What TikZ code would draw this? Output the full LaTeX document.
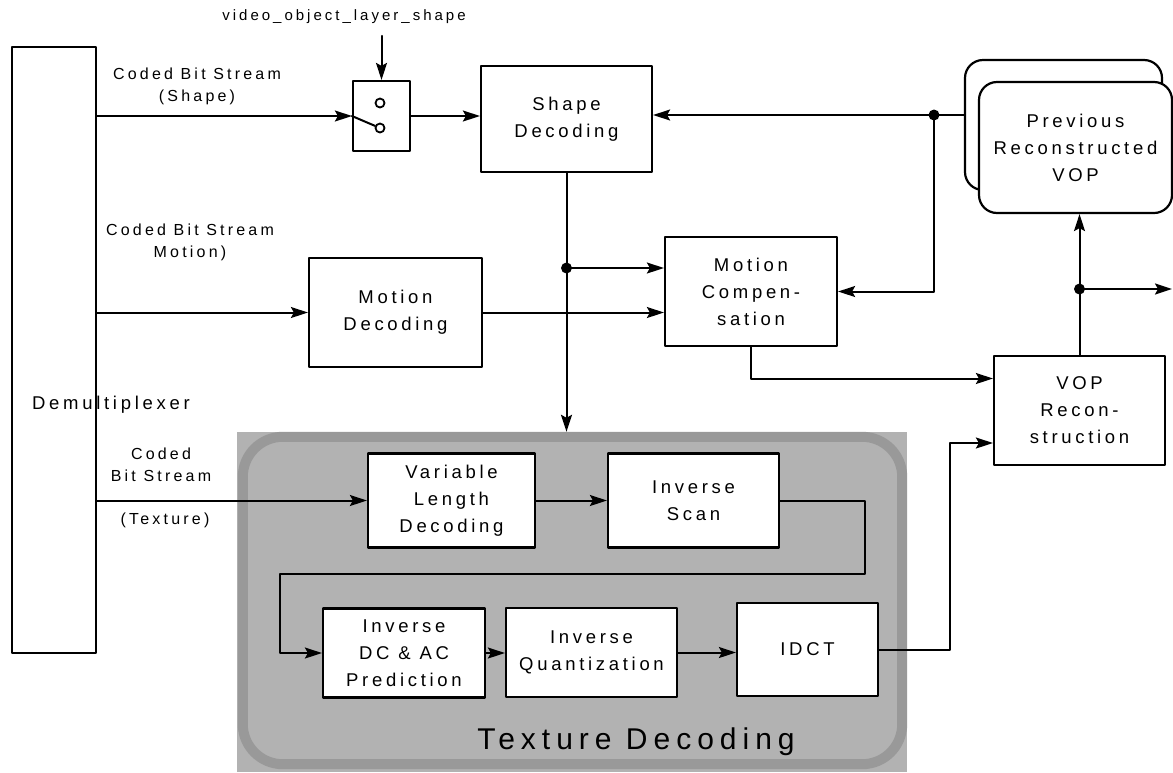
\documentclass[tikz,border=0pt]{standalone}
\usepackage{fontspec}
\setmainfont{Liberation Sans}[LetterSpace=20]
\newfontfamily\bigfont{Liberation Sans}[LetterSpace=20]
\usepackage{tikz}
\usetikzlibrary{arrows.meta}
\definecolor{texfill}{RGB}{178,178,178}
\definecolor{texrim}{RGB}{153,153,153}
\tikzset{
  blk/.style={draw,line width=2.2pt,fill=white,inner sep=0pt,align=center,font=\fontsize{18.5}{27}\selectfont},
  vopbox/.style={blk,rounded corners=18pt},
  lbl/.style={inner sep=0pt,align=center,font=\fontsize{16}{22}\selectfont},
  wire/.style={line width=2pt},
  contact/.style={draw,circle,line width=1.8pt,minimum size=9pt,inner sep=0pt}
}

\begin{document}
\begin{tikzpicture}[line cap=round,line join=round,>={Stealth[length=17pt,width=11pt,inset=3pt]},x=1pt,y=-1pt]
    \useasboundingbox (0,0) rectangle (1173,772);
    \node[fill=texfill,inner sep=0pt,minimum width=670pt,minimum height=340pt] (texture) at (572,602) {};
    \draw[texrim,line width=10pt,rounded corners=40pt] ([shift={(6,5)}]texture.north west) rectangle ([shift={(-5,-8)}]texture.south east);
    \node[font=\bigfont\fontsize{30}{36}\selectfont] (textitle) at (636,742) {Texture Decoding};
    \node[blk,minimum width=84pt,minimum height=606pt] (demux) at (54,350) {};
    \node[lbl,anchor=west,font=\fontsize{18.5}{22}\selectfont] (dmxtext) at (32,405) {Demultiplexer};
    \node[blk,minimum width=57pt,minimum height=70pt] (sw) at (381.5,116) {};
    \node[contact] (up) at (380,103) {};
    \node[contact] (dn) at (380,128) {};
    \node[blk,minimum width=171pt,minimum height=106pt] (sdec) at (566.5,119) {Shape\\Decoding};
    \node[blk,minimum width=173pt,minimum height=109pt] (mdec) at (395.5,312.5) {Motion\\Decoding};
    \node[blk,minimum width=172pt,minimum height=109pt] (mcomp) at (751,291.5) {Motion\\Compen-\\sation};
    \node[blk,minimum width=171pt,minimum height=109pt] (vrec) at (1079.5,410.5) {VOP\\Recon-\\struction};
    \node[vopbox,minimum width=197pt,minimum height=130pt] (prevback) at (1063.5,125) {};
    \node[vopbox,minimum width=193pt,minimum height=131pt] (prev) at (1075.5,147.5) {Previous\\Reconstructed\\VOP};
    \node[blk,minimum width=167pt,minimum height=94pt] (vld) at (451.5,500.5) {Variable\\Length\\Decoding};
    \node[blk,minimum width=171pt,minimum height=94pt] (iscan) at (693.5,500.5) {Inverse\\Scan};
    \node[blk,minimum width=162pt,minimum height=89pt] (idcp) at (404,653) {Inverse\\DC \& AC\\Prediction};
    \node[blk,minimum width=171pt,minimum height=89pt] (iquant) at (591.5,652.5) {Inverse\\Quantization};
    \node[blk,minimum width=141pt,minimum height=93pt] (idct) at (807.5,649.5) {IDCT};
    \node[lbl,font=\fontsize{15}{18}\selectfont] (vols) at (344,17) {video\_object\_layer\_shape};
    \node[lbl] (lshape) at (197,86) {Coded Bit Stream\\(Shape)};
    \node[lbl] (lmotion) at (190,242) {Coded Bit Stream\\Motion)};
    \node[lbl] (ltex) at (161,465) {Coded\\Bit Stream};
    \node[lbl] (ltexb) at (165,520) {(Texture)};
    \coordinate (j1) at (934,115);
    \coordinate (j2) at (566.5,268);
    \coordinate (j3) at (1079.5,289);
    \coordinate (out) at (1172,289);
    \draw[wire,->] (demux.east |- sw.west) -- (sw.west);
    \draw[wire] (sw.west) -- (dn);
    \draw[wire,<-] (sw.north) -- ++(0,-44);
    \draw[wire,->] (sw.east) -- (sw.east -| sdec.west);
    \draw[wire,->] (j1 -| prevback.west) -- (j1 -| sdec.east);
    \draw[wire,->] (j1) |- (mcomp.east);
    \draw[wire,->] (demux.east |- mdec.west) -- (mdec.west);
    \draw[wire,->] (mdec.east) -- (mdec.east -| mcomp.west);
    \draw[wire,->] (sdec.south) -- (sdec.south |- texture.north);
    \draw[wire,->] (j2) -- (j2 -| mcomp.west);
    \draw[wire,->] (mcomp.south) |- ([yshift=32pt]vrec.west);
    \draw[wire,->] (vrec.north) -- (vrec.north |- prev.south);
    \draw[wire,->] (j3) -- (out);
    \draw[wire,->] (demux.east |- vld.west) -- (vld.west);
    \draw[wire,->] (vld.east) -- (iscan.west);
    \draw[wire,->] (iscan.east) -- ++(85,0) -- ++(0,73.5) -| ([xshift=-42pt]idcp.west) -- (idcp.west);
    \draw[wire,->] (idcp.east) -- (idcp.east -| iquant.west);
    \draw[wire,->] (iquant.east) -- (iquant.east -| idct.west);
    \draw[wire,->] (idct.east) -- ++(71,0) |- ([yshift=-32.5pt]vrec.west);
    \foreach \j in {j1,j2,j3} \fill (\j) circle (5.5);
\end{tikzpicture}
\end{document}
